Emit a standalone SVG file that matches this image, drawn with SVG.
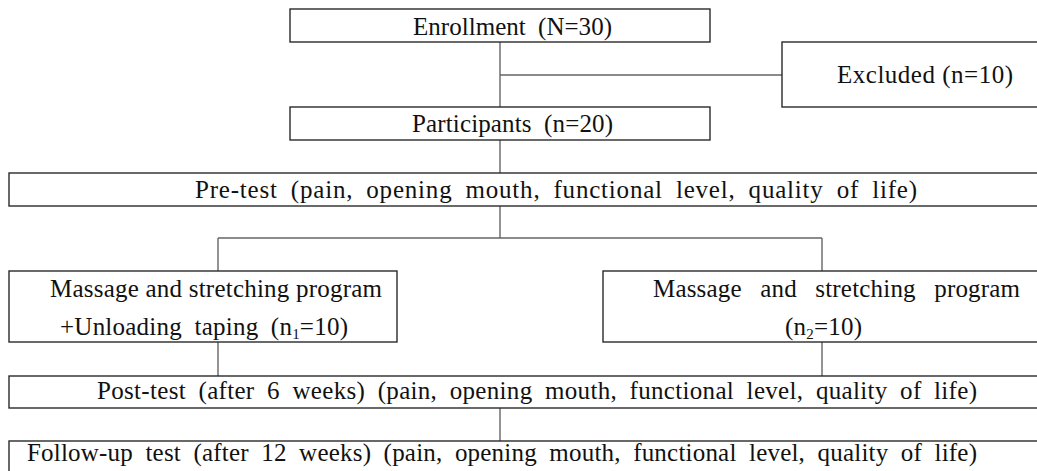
<svg xmlns="http://www.w3.org/2000/svg" width="1037" height="471" viewBox="0 0 1037 471">
<style>
.box{fill:#fff;stroke:#2a2a2a;stroke-width:1.4}
.ln{fill:none;stroke:#666;stroke-width:1.4}
text{font-family:"Liberation Serif","Times New Roman",serif;font-size:25px;fill:#111}
.sub{font-size:15px}
.ws{word-spacing:6px}
.ws2{word-spacing:12px}
</style>
<rect width="1037" height="471" fill="#fff"/>
<g id="connectors">
<path class="ln" d="M500 42V107M500 75H782M500 140V173M500 206V238M218 238H822M218 238V271M822 238V271M218 342V376M822 342V376M500 408V441"/>
</g>
<g id="enrollment"><rect class="box" x="290" y="9" width="420" height="33"/><text x="413" y="35" class="ws" textLength="199" lengthAdjust="spacing">Enrollment (N=30)</text></g>
<g id="excluded"><rect class="box" x="782" y="42" width="270" height="65"/><text x="837" y="83" textLength="176" lengthAdjust="spacing">Excluded (n=10)</text></g>
<g id="participants"><rect class="box" x="290" y="107" width="420" height="33"/><text x="412" y="132" class="ws" textLength="201" lengthAdjust="spacing">Participants (n=20)</text></g>
<g id="pretest"><rect class="box" x="9" y="173" width="1040" height="33"/><text x="195" y="198" class="ws" textLength="722" lengthAdjust="spacing">Pre-test (pain, opening mouth, functional level, quality of life)</text></g>
<g id="group1"><rect class="box" x="9" y="271" width="388" height="71"/><text x="50" y="297" textLength="332" lengthAdjust="spacing">Massage and stretching program</text><text x="60" y="335" class="ws" textLength="288" lengthAdjust="spacing">+Unloading taping (n<tspan class="sub" dy="4">1</tspan><tspan dy="-4">=10)</tspan></text></g>
<g id="group2"><rect class="box" x="603" y="271" width="450" height="71"/><text x="653" y="297" class="ws2" textLength="367" lengthAdjust="spacing">Massage and stretching program</text><text x="785" y="335" textLength="77" lengthAdjust="spacing">(n<tspan class="sub" dy="4">2</tspan><tspan dy="-4">=10)</tspan></text></g>
<g id="posttest"><rect class="box" x="9" y="376" width="1040" height="32"/><text x="97" y="399" class="ws" textLength="880" lengthAdjust="spacing">Post-test (after 6 weeks) (pain, opening mouth, functional level, quality of life)</text></g>
<g id="followup"><rect class="box" x="9" y="441" width="1040" height="40"/><text x="27" y="461" class="ws" textLength="950" lengthAdjust="spacing">Follow-up test (after 12 weeks) (pain, opening mouth, functional level, quality of life)</text></g>
</svg>
